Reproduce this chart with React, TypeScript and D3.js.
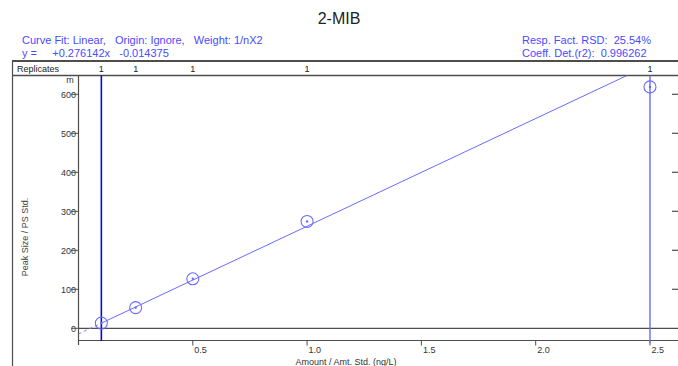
import React from 'react'
import * as d3 from 'd3'

// calibration levels (ng/L) and measured peak size ratio (x1000)
const amounts = [0.1, 0.25, 0.5, 1.0, 2.5]
const peakSizes = [13.5, 53, 127, 274, 619]
const replicates = [1, 1, 1, 1, 1]
const xTicks = [0.5, 1.0, 1.5, 2.0, 2.5]
const yTicks = [0, 100, 200, 300, 400, 500, 600]
const slope = 276.142
const intercept = -14.375

const W = 678
const H = 366
const blue = '#4a4aff'
const frame = '#4d4d4d'
const font = 'Liberation Sans, Arial, sans-serif'

const App = () => {
  const x = d3.scaleLinear().domain([0, 2.62]).range([78.5, 677.4])
  const y = d3.scaleLinear().domain([0, 600]).range([328.3, 94.3])

  const plotTop = 75.5
  const axisBottom = 340.5
  const x0 = x(0)

  const fit = d3.line<number>()
    .x(d => x(d))
    .y(d => y(slope * d + intercept))

  return (
    <svg width={W} height={H} style={{ position: 'absolute', left: 0, top: 0 }} fontFamily={font}>
      <defs>
        <clipPath id="plot-clip">
          <rect x={x0} y={plotTop} width={W - x0} height={axisBottom - plotTop} />
        </clipPath>
      </defs>

      <text x={W / 2} y={24} textAnchor="middle" fontSize={16} fill="#222">2-MIB</text>

      <g fill={blue} fontSize={11}>
        <text x={22} y={44} style={{ whiteSpace: 'pre' }}>{'Curve Fit: Linear,   Origin: Ignore,   Weight: 1/nX2'}</text>
        <text x={22} y={57} style={{ whiteSpace: 'pre' }}>{'y =     +0.276142x   -0.014375'}</text>
        <text x={522} y={44} style={{ whiteSpace: 'pre' }}>{'Resp. Fact. RSD:  25.54%'}</text>
        <text x={522} y={57} style={{ whiteSpace: 'pre' }}>{'Coeff. Det.(r2):  0.996262'}</text>
      </g>

      {/* frame + replicates row */}
      <line x1={12} x2={W} y1={61} y2={61} stroke={frame} strokeWidth={2} />
      <line x1={12} x2={W} y1={plotTop} y2={plotTop} stroke={frame} strokeWidth={1.5} />
      <line x1={12.5} x2={12.5} y1={61} y2={H} stroke={frame} strokeWidth={1.2} />
      <text x={17} y={72} fontSize={9} fill="#222">Replicates</text>
      {amounts.map((a, i) => (
        <text key={'r' + i} x={x(a)} y={72} fontSize={9} fill="#222" textAnchor="middle">{replicates[i]}</text>
      ))}

      {/* y axis */}
      <line x1={x0} x2={x0} y1={plotTop} y2={345} stroke={frame} strokeWidth={1.2} />
      <text x={70} y={83} fontSize={9} fill="#333" textAnchor="middle">m</text>
      {yTicks.map(t => (
        <g key={'y' + t}>
          <text x={76} y={y(t) + 3.5} fontSize={9} fill="#333" textAnchor="end">{t}</text>
          <line x1={71} x2={x0} y1={y(t)} y2={y(t)} stroke={frame} strokeWidth={1} />
          {t > 0 && <line x1={672} x2={W} y1={y(t)} y2={y(t)} stroke={frame} strokeWidth={1.2} />}
        </g>
      ))}
      <text transform={`translate(28,${237}) rotate(-90)`} fontSize={9} fill="#444" textAnchor="middle">Peak Size / PS Std.</text>

      {/* zero line and x axis */}
      <line x1={x0} x2={W} y1={y(0)} y2={y(0)} stroke={frame} strokeWidth={1.2} />
      <line x1={x0} x2={W} y1={axisBottom} y2={axisBottom} stroke={frame} strokeWidth={1.2} />
      {xTicks.map(t => (
        <g key={'x' + t}>
          <line x1={x(t)} x2={x(t)} y1={axisBottom} y2={345.5} stroke={frame} strokeWidth={1} />
          <text x={x(t) + 1.5} y={353} fontSize={9} fill="#333">{t.toFixed(1)}</text>
        </g>
      ))}
      <text x={346} y={365} fontSize={9} fill="#333" textAnchor="middle">Amount / Amt. Std. (ng/L)</text>

      {/* range limits */}
      <line x1={x(amounts[0])} x2={x(amounts[0])} y1={plotTop} y2={341} stroke="#0a0acc" strokeWidth={1.6} />
      <line x1={x(amounts[amounts.length - 1])} x2={x(amounts[amounts.length - 1])} y1={plotTop} y2={343} stroke="#6a6aff" strokeWidth={1.4} />

      {/* fit line */}
      <g clipPath="url(#plot-clip)">
        <path d={fit([0, amounts[0]]) || ''} fill="none" stroke="#8080ff" strokeWidth={1} strokeDasharray="3,3" />
        <path d={fit([amounts[0], 2.62]) || ''} fill="none" stroke="#6a6aff" strokeWidth={1} />
      </g>

      {/* points */}
      {amounts.map((a, i) => (
        <g key={'p' + i}>
          <circle cx={x(a)} cy={y(peakSizes[i])} r={6} fill="none" stroke="#6a6aff" strokeWidth={1.1} />
          <circle cx={x(a)} cy={y(peakSizes[i])} r={1.2} fill="#6a6aff" />
        </g>
      ))}
    </svg>
  )
}

export default App
